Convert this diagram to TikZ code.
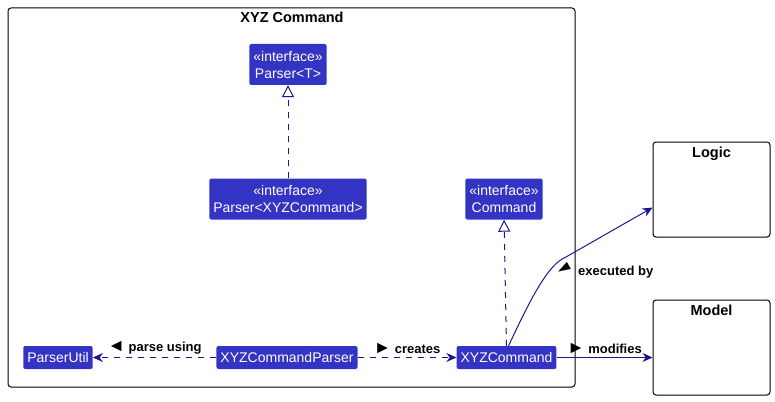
\documentclass[tikz,border=0pt]{standalone}
\usepackage{fontspec}
\setmainfont{Liberation Sans}
\usetikzlibrary{arrows.meta,positioning}
\definecolor{umlfill}{RGB}{52,52,196}
\definecolor{umlline}{RGB}{24,24,140}
\newcommand{\dirR}{\scalebox{1.35}{►}}
\newcommand{\dirL}{\scalebox{1.35}{◄}}
\tikzset{
  >=Stealth,
  cls/.style={rectangle, fill=umlfill, text=white, rounded corners=2pt, inner xsep=4pt, inner ysep=2pt, minimum height=23pt, font=\fontsize{14}{17}\selectfont, align=center},
  iface/.style={cls, minimum height=41pt},
  comp/.style={rectangle, draw, rounded corners=3pt, line width=1pt},
  ttl/.style={font=\bfseries\fontsize{14.5}{16}\selectfont, inner sep=1pt},
  lbl/.style={font=\bfseries\fontsize{13}{15}\selectfont, inner sep=1pt},
  real/.style={draw=umlline, line width=1pt, dash pattern=on 6pt off 6pt, -{Triangle[open, length=12pt, width=12pt, fill=white]}},
  dep/.style={draw=umlline, line width=1pt, dash pattern=on 6pt off 6pt, -{Stealth[length=10pt, width=9pt]}},
  assoc/.style={draw=umlline, line width=1pt, -{Stealth[length=10pt, width=9pt]}}
}
\begin{document}
\begin{tikzpicture}[x=1pt, y=-1pt]
  \useasboundingbox (0,0) rectangle (775,401);

  % package
  \node[comp, minimum width=567pt, minimum height=379pt] (pkg) at (291.5,197.5) {};
  \node[ttl] (pkgttl) at (292,17) {XYZ Command};

  % classes
  \node[iface] (parsert) at (288,64.5) {«interface»\\Parser<T>};
  \node[iface] (parserxyz) at (288,199) {«interface»\\Parser<XYZCommand>};
  \node[iface] (command) at (504,199) {«interface»\\Command};
  \node[cls] (util) at (58,357.5) {ParserUtil};
  \node[cls] (xyzparser) at (287,357.5) {XYZCommandParser};
  \node[cls] (xyzcmd) at (506.5,357.5) {XYZCommand};

  % other components
  \node[comp, minimum width=117pt, minimum height=95pt] (logic) at (711.5,189.5) {};
  \node[ttl, below=4pt of logic.north] (logicttl) {Logic};
  \node[comp, minimum width=117pt, minimum height=95pt] (model) at (711.5,347.5) {};
  \node[ttl, below=4pt of model.north] (modelttl) {Model};

  % connectors
  \draw[real] (parserxyz) -- (parsert);
  \draw[real] (xyzcmd.north) -- (command.south);
  \draw[dep] (xyzparser) -- node[lbl, above=2pt] {\dirL\ parse using} (util);
  \draw[dep] (xyzparser) -- node[lbl, above=2pt] {\dirR\ creates} (xyzcmd);
  \draw[assoc] (xyzcmd.east) -- node[lbl, above=2pt] {\dirR\ modifies} (xyzcmd.east -| model.west);
  \draw[assoc] (xyzcmd.80) .. controls (530,300) and (548,264) .. (566,257) -- (logic.197);
  \node[lbl] (execlbl) at (603,269.5) {\raisebox{-2pt}{\rotatebox{30}{\scalebox{1.6}[1.05]{◄}}} executed by};
\end{tikzpicture}
\end{document}
